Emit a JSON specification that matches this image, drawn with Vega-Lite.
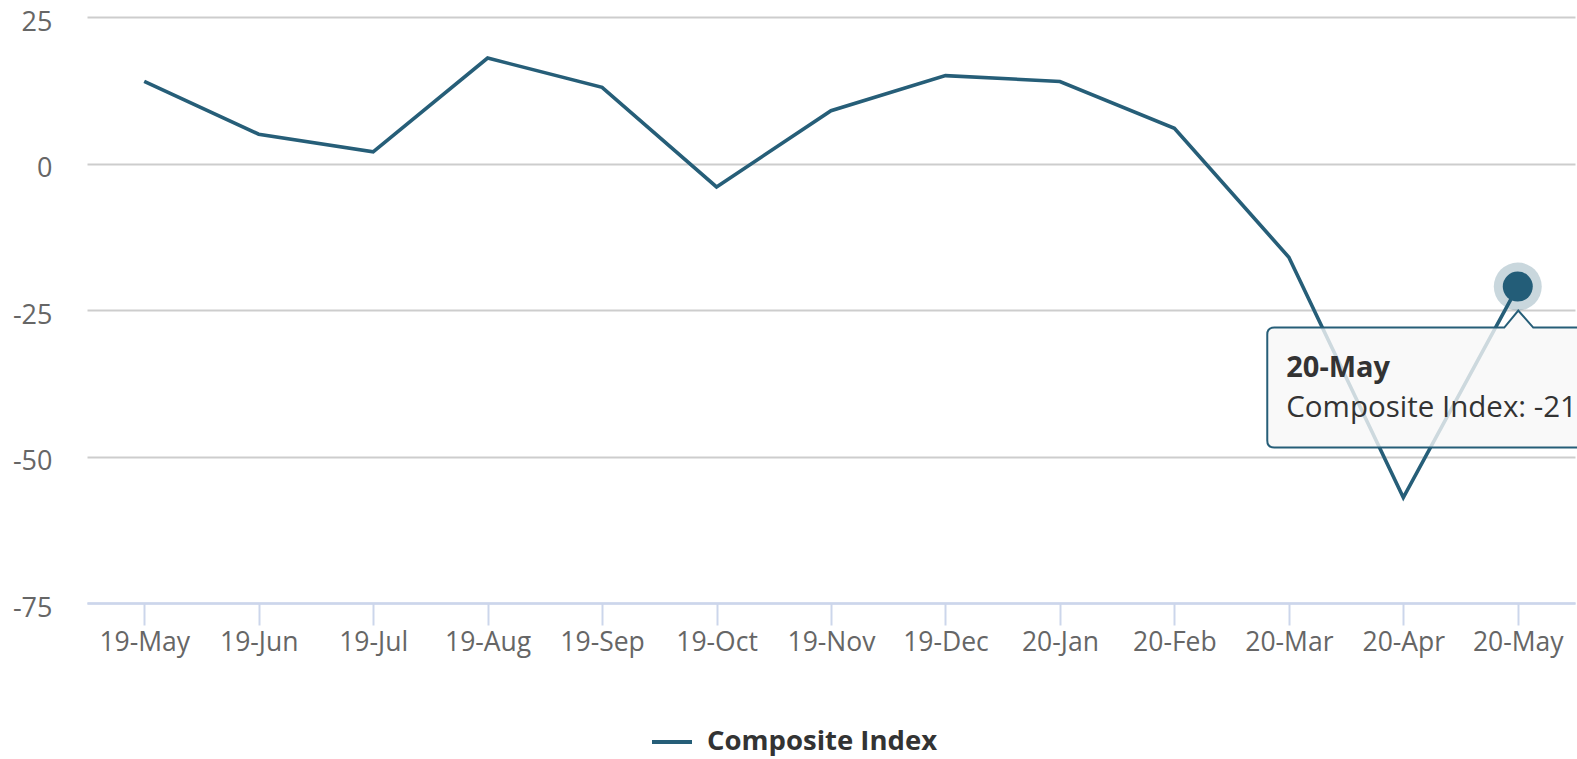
{
  "$schema": "https://vega.github.io/schema/vega-lite/v6.json",
  "width": 1488,
  "height": 586,
  "autosize": {"type": "none"},
  "padding": {"left": 87, "top": 17, "right": 2, "bottom": 156},
  "background": "white",
  "config": {
    "view": {"stroke": null},
    "font": "Open Sans",
    "legend": {
      "orient": "none",
      "legendX": 563,
      "legendY": 703,
      "title": null,
      "symbolType": "stroke",
      "symbolSize": 1600,
      "symbolStrokeWidth": 4,
      "labelFont": "Open Sans",
      "labelFontSize": 27.5,
      "labelFontWeight": "bold",
      "labelColor": "#333333",
      "labelOffset": 13,
      "labelLimit": 0
    }
  },
  "data": {
    "values": [
      {"month": "19-May", "value": 14, "series": "Composite Index"},
      {"month": "19-Jun", "value": 5, "series": "Composite Index"},
      {"month": "19-Jul", "value": 2, "series": "Composite Index"},
      {"month": "19-Aug", "value": 18, "series": "Composite Index"},
      {"month": "19-Sep", "value": 13, "series": "Composite Index"},
      {"month": "19-Oct", "value": -4, "series": "Composite Index"},
      {"month": "19-Nov", "value": 9, "series": "Composite Index"},
      {"month": "19-Dec", "value": 15, "series": "Composite Index"},
      {"month": "20-Jan", "value": 14, "series": "Composite Index"},
      {"month": "20-Feb", "value": 6, "series": "Composite Index"},
      {"month": "20-Mar", "value": -16, "series": "Composite Index"},
      {"month": "20-Apr", "value": -57, "series": "Composite Index"},
      {"month": "20-May", "value": -21, "series": "Composite Index"}
    ]
  },
  "encoding": {
    "x": {
      "field": "month",
      "type": "ordinal",
      "sort": null,
      "scale": {"type": "point", "padding": 0.5},
      "axis": {
        "title": null,
        "labelAngle": 0,
        "domainColor": "#ccd6eb",
        "domainWidth": 2.5,
        "tickColor": "#ccd6eb",
        "tickWidth": 2,
        "tickSize": 22,
        "labelFont": "Open Sans",
        "labelFontSize": 26.5,
        "labelColor": "#666666",
        "labelPadding": 4,
        "grid": false,
        "zindex": 1
      }
    },
    "y": {
      "field": "value",
      "type": "quantitative",
      "scale": {"domain": [-75, 25], "nice": false, "zero": false},
      "axis": {
        "title": null,
        "values": [-75, -50, -25, 0, 25],
        "labelExpr": "'' + datum.value",
        "domain": false,
        "ticks": false,
        "gridColor": {"condition": {"test": "datum.value == -75", "value": "#ccd6eb"}, "value": "#cdcdcd"},
        "gridWidth": 2,
        "labelFont": "Open Sans",
        "labelFontSize": 27,
        "labelColor": "#666666",
        "labelPadding": 35,
        "labelOffset": 5
      }
    }
  },
  "layer": [
    {
      "mark": {"type": "line", "strokeWidth": 3.6},
      "encoding": {
        "color": {"field": "series", "type": "nominal", "scale": {"range": ["#265e78"]}}
      }
    },
    {
      "transform": [{"filter": "datum.month == '20-May'"}],
      "mark": {"type": "point", "shape": "circle", "filled": true, "size": 2300, "fill": "#265e78", "fillOpacity": 0.25, "strokeWidth": 0}
    },
    {
      "transform": [{"filter": "datum.month == '20-May'"}],
      "mark": {"type": "point", "shape": "circle", "filled": true, "size": 900, "fill": "#235d78", "fillOpacity": 1, "strokeWidth": 0}
    },
    {
      "transform": [{"filter": "datum.month == '20-May'"}],
      "mark": {
        "type": "point",
        "shape": "M -2.435 0.41 L -0.135 0.41 L 0.005 0.24 L 0.155 0.41 L 0.72 0.41 L 0.72 1.61 L -2.435 1.61 Q -2.505 1.61 -2.505 1.54 L -2.505 0.48 Q -2.505 0.41 -2.435 0.41 Z",
        "size": 40000,
        "filled": true,
        "fill": "#f7f7f7",
        "fillOpacity": 0.8,
        "stroke": "#265e78",
        "strokeWidth": 2,
        "strokeOpacity": 1
      }
    },
    {
      "transform": [{"filter": "datum.month == '20-May'"}],
      "mark": {"type": "text", "align": "left", "baseline": "alphabetic", "dx": -231.5, "dy": 90, "fontSize": 29, "fontWeight": "bold", "color": "#333333", "font": "Open Sans"},
      "encoding": {"text": {"field": "month"}}
    },
    {
      "transform": [{"filter": "datum.month == '20-May'"}],
      "mark": {"type": "text", "align": "left", "baseline": "alphabetic", "dx": -231.5, "dy": 130, "fontSize": 29.5, "color": "#333333", "font": "Open Sans", "text": {"expr": "'Composite Index: ' + datum.value"}}
    }
  ]
}
